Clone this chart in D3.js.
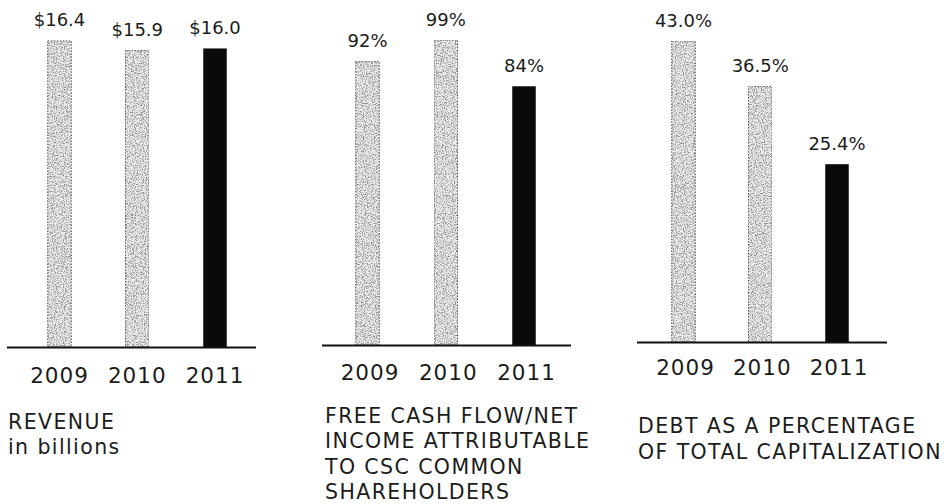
<!DOCTYPE html>
<html>
<head>
<meta charset="utf-8">
<script src="https://cdn.jsdelivr.net/npm/d3@7"></script>
<style>
  html, body { margin: 0; padding: 0; background: #fff; }
  svg { display: block; }
  text { font-family: "DejaVu Sans", sans-serif; fill: #1c1c1c; }
</style>
</head>
<body>
<script>
(function() {
    'use strict';

    // data
    let years = ["2009", "2010", "2011"];
    let revenue = [16.4, 15.9, 16.0];
    let freeCashFlow = [92, 99, 84];
    let debtPct = [43.0, 36.5, 25.4];

    let revenueTitle = ["REVENUE", "in billions"];
    let fcfTitle = ["FREE CASH FLOW/NET", "INCOME ATTRIBUTABLE", "TO CSC COMMON", "SHAREHOLDERS"];
    let debtTitle = ["DEBT AS A PERCENTAGE", "OF TOTAL CAPITALIZATION"];

    let width = 946;
    let height = 504;
    let barWidth = 23.5;

    // layout per panel (pixel positions only)
    let panels = [
        { values: revenue, title: revenueTitle, fmt: function(d) { return "$" + d.toFixed(1); },
          centers: [59.5, 215], base: 347, pxPerUnit: 18.66, line: [7, 256],
          yearY: 383, yearDx: 0, titleX: 8, titleY: [429, 454] },
        { values: freeCashFlow, title: fcfTitle, fmt: function(d) { return d + "%"; },
          centers: [367.5, 524], base: 345, pxPerUnit: 3.08, line: [322, 571],
          yearY: 380, yearDx: 2.5, titleX: 325, titleY: [423, 448, 473.5, 498.5] },
        { values: debtPct, title: debtTitle, fmt: function(d) { return d.toFixed(1) + "%"; },
          centers: [683.5, 837], base: 342, pxPerUnit: 7.0, line: [637, 887],
          yearY: 375, yearDx: 2, titleX: 638, titleY: [433, 459] }
    ];

    let svg = d3.select("body").append("svg")
        .attr("width", width)
        .attr("height", height);

    // stippled grey texture for the 2009 / 2010 bars
    let defs = svg.append("defs");
    let filter = defs.append("filter")
        .attr("id", "stipple")
        .attr("x", "0").attr("y", "0")
        .attr("width", "100%").attr("height", "100%");
    filter.append("feTurbulence")
        .attr("type", "fractalNoise")
        .attr("baseFrequency", "0.9")
        .attr("numOctaves", "2")
        .attr("seed", "4")
        .attr("result", "noise");
    filter.append("feColorMatrix")
        .attr("in", "noise")
        .attr("type", "matrix")
        .attr("values", "0 0 0 0 0.3  0 0 0 0 0.3  0 0 0 0 0.3  -4.5 0 0 0 2.5")
        .attr("result", "dots");
    filter.append("feComposite")
        .attr("in", "dots")
        .attr("in2", "SourceAlpha")
        .attr("operator", "in")
        .attr("result", "dotsIn");
    let merge = filter.append("feMerge");
    merge.append("feMergeNode").attr("in", "SourceGraphic");
    merge.append("feMergeNode").attr("in", "dotsIn");

    panels.forEach(function(p) {
        let g = svg.append("g");

        let x = d3.scalePoint()
            .domain(years)
            .range(p.centers);

        let maxVal = d3.max(p.values) * 1.1;
        let y = d3.scaleLinear()
            .domain([0, maxVal])
            .range([p.base, p.base - maxVal * p.pxPerUnit]);

        let rows = years.map(function(yr, i) { return { year: yr, value: p.values[i], last: i === years.length - 1 }; });

        g.selectAll(".bar")
            .data(rows)
            .enter()
            .append("rect")
            .attr("class", "bar")
            .attr("x", function(d) { return x(d.year) - barWidth / 2; })
            .attr("y", function(d) { return y(d.value); })
            .attr("width", barWidth)
            .attr("height", function(d) { return y(0) - y(d.value); })
            .attr("fill", function(d) { return d.last ? "#0a0a0a" : "#ececec"; })
            .attr("filter", function(d) { return d.last ? null : "url(#stipple)"; })
            .attr("stroke", function(d) { return d.last ? "none" : "#444"; })
            .attr("stroke-width", 1)
            .attr("stroke-dasharray", "1.5 1.5");

        // baseline
        g.append("line")
            .attr("x1", p.line[0])
            .attr("x2", p.line[1])
            .attr("y1", p.base + 0.5)
            .attr("y2", p.base + 0.5)
            .attr("stroke", "#111")
            .attr("stroke-width", 2.2);

        // value labels
        g.selectAll(".val")
            .data(rows)
            .enter()
            .append("text")
            .attr("class", "val")
            .attr("x", function(d) { return x(d.year); })
            .attr("y", function(d) { return y(d.value) - 14.5; })
            .attr("text-anchor", "middle")
            .attr("font-size", 18)
            .text(function(d) { return p.fmt(d.value); });

        // year labels
        g.selectAll(".yr")
            .data(rows)
            .enter()
            .append("text")
            .attr("class", "yr")
            .attr("x", function(d) { return x(d.year) + p.yearDx; })
            .attr("y", p.yearY)
            .attr("text-anchor", "middle")
            .attr("font-size", 21.5)
            .attr("letter-spacing", 1)
            .text(function(d) { return d.year; });

        // panel title
        g.selectAll(".title")
            .data(p.title)
            .enter()
            .append("text")
            .attr("class", "title")
            .attr("x", p.titleX)
            .attr("y", function(d, i) { return p.titleY[i]; })
            .attr("font-size", 20.5)
            .attr("letter-spacing", 1.4)
            .text(function(d) { return d; });
    });
})();
</script>
</body>
</html>
